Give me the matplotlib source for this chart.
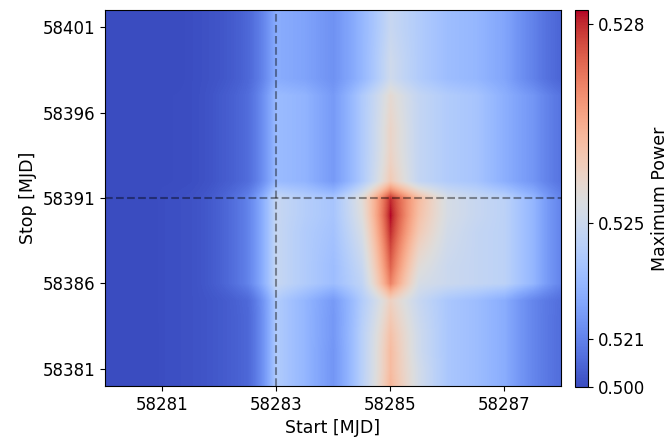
import matplotlib
matplotlib.use("Agg")
import matplotlib.pyplot as plt
import numpy as np
from matplotlib.colors import PowerNorm

# start dates (columns) and stop dates (rows) of the search windows
start_mjd = [58280.0, 58280.5, 58281.0, 58281.5, 58282.0, 58282.5, 58283.0, 58283.5,
             58284.0, 58284.5, 58285.0, 58285.5, 58286.0, 58286.5, 58287.0, 58287.5, 58288.0]
stop_mjd = list(range(58380, 58403))

# maximum periodogram power, one row per stop date (bottom to top)
power = [
    [0.5000, 0.5030, 0.5139, 0.5154, 0.5172, 0.5190, 0.5243, 0.5234, 0.5220, 0.5245, 0.5266, 0.5252, 0.5241, 0.5237, 0.5230, 0.5212, 0.5195],  # 58380
    [0.5000, 0.5030, 0.5139, 0.5154, 0.5172, 0.5190, 0.5243, 0.5234, 0.5220, 0.5245, 0.5265, 0.5252, 0.5241, 0.5237, 0.5230, 0.5212, 0.5195],  # 58381
    [0.5010, 0.5040, 0.5139, 0.5154, 0.5172, 0.5190, 0.5243, 0.5234, 0.5220, 0.5245, 0.5265, 0.5251, 0.5241, 0.5237, 0.5230, 0.5212, 0.5195],  # 58382
    [0.5010, 0.5040, 0.5139, 0.5154, 0.5172, 0.5190, 0.5243, 0.5234, 0.5221, 0.5245, 0.5264, 0.5251, 0.5241, 0.5237, 0.5230, 0.5212, 0.5195],  # 58383
    [0.5020, 0.5050, 0.5139, 0.5154, 0.5172, 0.5190, 0.5243, 0.5234, 0.5221, 0.5244, 0.5262, 0.5250, 0.5241, 0.5237, 0.5230, 0.5212, 0.5195],  # 58384
    [0.5020, 0.5050, 0.5139, 0.5154, 0.5172, 0.5192, 0.5243, 0.5234, 0.5222, 0.5243, 0.5260, 0.5249, 0.5241, 0.5237, 0.5230, 0.5212, 0.5196],  # 58385
    [0.5020, 0.5050, 0.5139, 0.5154, 0.5183, 0.5210, 0.5249, 0.5243, 0.5237, 0.5247, 0.5273, 0.5253, 0.5250, 0.5248, 0.5246, 0.5234, 0.5210],  # 58386
    [0.5020, 0.5050, 0.5139, 0.5154, 0.5183, 0.5210, 0.5249, 0.5243, 0.5237, 0.5249, 0.5276, 0.5256, 0.5250, 0.5248, 0.5246, 0.5234, 0.5210],  # 58387
    [0.5030, 0.5060, 0.5139, 0.5154, 0.5183, 0.5210, 0.5249, 0.5243, 0.5238, 0.5251, 0.5278, 0.5259, 0.5251, 0.5248, 0.5246, 0.5234, 0.5210],  # 58388
    [0.5030, 0.5060, 0.5139, 0.5154, 0.5183, 0.5210, 0.5249, 0.5243, 0.5239, 0.5253, 0.5280, 0.5262, 0.5252, 0.5248, 0.5246, 0.5234, 0.5210],  # 58389
    [0.5030, 0.5060, 0.5139, 0.5154, 0.5183, 0.5210, 0.5249, 0.5244, 0.5240, 0.5255, 0.52815, 0.5264, 0.5253, 0.5249, 0.5246, 0.5234, 0.5210],  # 58390
    [0.5030, 0.5060, 0.5139, 0.5154, 0.5183, 0.5210, 0.5249, 0.5244, 0.5240, 0.5256, 0.5280, 0.5265, 0.5253, 0.5249, 0.5246, 0.5234, 0.5210],  # 58391
    [0.5020, 0.5050, 0.5120, 0.5139, 0.5172, 0.5195, 0.5236, 0.5233, 0.5222, 0.5242, 0.5262, 0.5248, 0.5243, 0.5240, 0.5231, 0.5220, 0.5200],  # 58392
    [0.5020, 0.5050, 0.5120, 0.5139, 0.5172, 0.5195, 0.5236, 0.5233, 0.5222, 0.5242, 0.5260, 0.5248, 0.5243, 0.5240, 0.5231, 0.5220, 0.5200],  # 58393
    [0.5010, 0.5050, 0.5120, 0.5139, 0.5172, 0.5195, 0.5236, 0.5233, 0.5222, 0.5242, 0.5259, 0.5248, 0.5243, 0.5240, 0.5231, 0.5220, 0.5200],  # 58394
    [0.5010, 0.5050, 0.5120, 0.5139, 0.5172, 0.5195, 0.5236, 0.5233, 0.5222, 0.5242, 0.5259, 0.5248, 0.5243, 0.5240, 0.5231, 0.5220, 0.5200],  # 58395
    [0.5010, 0.5040, 0.5120, 0.5139, 0.5172, 0.5195, 0.5236, 0.5233, 0.5222, 0.5242, 0.5258, 0.5248, 0.5243, 0.5240, 0.5231, 0.5220, 0.5200],  # 58396
    [0.5010, 0.5040, 0.5120, 0.5139, 0.5172, 0.5195, 0.5236, 0.5233, 0.5222, 0.5242, 0.5257, 0.5248, 0.5243, 0.5240, 0.5231, 0.5220, 0.5200],  # 58397
    [0.5000, 0.5030, 0.5080, 0.5139, 0.5164, 0.5190, 0.5230, 0.5226, 0.5218, 0.5234, 0.5251, 0.5243, 0.5237, 0.5234, 0.5227, 0.5210, 0.5187],  # 58398
    [0.5000, 0.5030, 0.5080, 0.5139, 0.5164, 0.5190, 0.5230, 0.5226, 0.5218, 0.5234, 0.5251, 0.5243, 0.5237, 0.5234, 0.5227, 0.5210, 0.5187],  # 58399
    [0.5000, 0.5030, 0.5080, 0.5139, 0.5164, 0.5190, 0.5230, 0.5226, 0.5218, 0.5234, 0.5250, 0.5243, 0.5237, 0.5234, 0.5227, 0.5210, 0.5187],  # 58400
    [0.5000, 0.5030, 0.5080, 0.5139, 0.5164, 0.5190, 0.5230, 0.5226, 0.5218, 0.5234, 0.5249, 0.5243, 0.5237, 0.5234, 0.5227, 0.5210, 0.5187],  # 58401
    [0.5000, 0.5030, 0.5080, 0.5139, 0.5164, 0.5190, 0.5230, 0.5226, 0.5218, 0.5234, 0.5249, 0.5243, 0.5237, 0.5234, 0.5227, 0.5210, 0.5187],  # 58402
]

best_start = 58283
best_stop = 58391
cbar_ticks = [0.500, 0.521, 0.525, 0.528]
x_ticks = [58281, 58283, 58285, 58287]
y_ticks = [58381, 58386, 58391, 58396, 58401]

power = np.array(power)
dx = (start_mjd[1] - start_mjd[0]) / 2
dy = (stop_mjd[1] - stop_mjd[0]) / 2

fig = plt.figure(figsize=(6.71, 4.38), dpi=100)
ax = fig.add_axes([0.1565, 0.1187, 0.6796, 0.8584])
cax = fig.add_axes([0.857, 0.1164, 0.0194, 0.8607])

norm = PowerNorm(gamma=7.0, vmin=0.500, vmax=0.52815)
im = ax.imshow(power, origin='lower', aspect='auto', cmap='coolwarm', norm=norm,
               interpolation='bilinear',
               extent=[start_mjd[0] - dx, start_mjd[-1] + dx,
                       stop_mjd[0] - dy, stop_mjd[-1] + dy])
ax.set_xlim(start_mjd[0], start_mjd[-1])
ax.set_ylim(stop_mjd[0], stop_mjd[-1])

ax.axvline(best_start, color='k', ls='--', lw=1.5, alpha=0.4)
ax.axhline(best_stop, color='k', ls='--', lw=1.5, alpha=0.4)

ax.set_xticks(x_ticks)
ax.set_yticks(y_ticks)
ax.ticklabel_format(useOffset=False, style='plain')
ax.tick_params(labelsize=12)
ax.set_xlabel('Start [MJD]', fontsize=12.5)
ax.set_ylabel('Stop [MJD]', fontsize=12.5)

cb = fig.colorbar(im, cax=cax)
cb.set_ticks(cbar_ticks)
cb.set_ticklabels(['%.3f' % t for t in cbar_ticks])
cb.ax.tick_params(labelsize=12)
cb.set_label('Maximum Power', fontsize=12.5)

fig.savefig('out.png', dpi=100)
